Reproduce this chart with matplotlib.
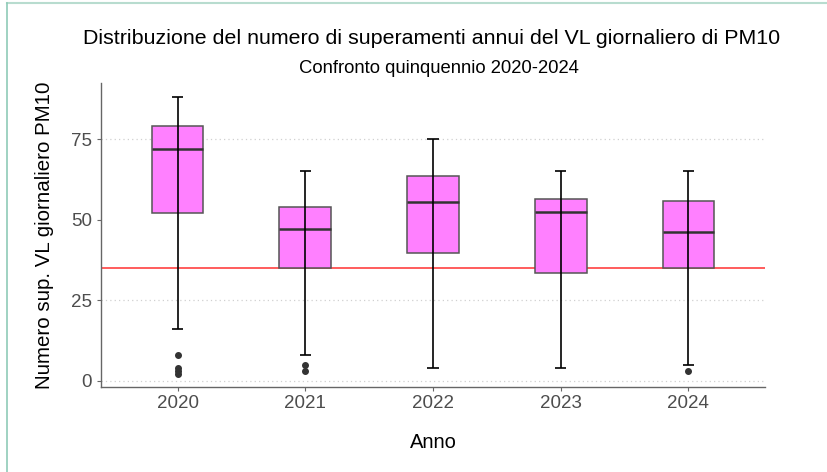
import matplotlib
matplotlib.use("Agg")
import matplotlib.pyplot as plt
from matplotlib.lines import Line2D

plt.rcParams['font.family'] = ['Liberation Sans', 'DejaVu Sans']

# Summary statistics
anni = ['2020', '2021', '2022', '2023', '2024']
whisker_low = [16, 8, 4, 4, 5]
q1 = [52, 35, 39.5, 33.5, 35]
mediana = [72, 47, 55.5, 52.5, 46]
q3 = [79, 54, 63.5, 56.5, 55.8]
whisker_high = [88, 65, 75, 65, 65]
outliers = [[8, 4, 3, 2], [5, 3], [], [], [3]]

valore_limite = 35
y_ticks = [0, 25, 50, 75]
grid_lines = [0, 25, 75]

fig = plt.figure(figsize=(8.27, 4.72), dpi=100)
ax = fig.add_axes([0.1221, 0.180, 0.8029, 0.644])

stats = []
for i, anno in enumerate(anni):
    stats.append(dict(label=anno, med=mediana[i], q1=q1[i], q3=q3[i],
                      whislo=whisker_low[i], whishi=whisker_high[i],
                      fliers=outliers[i]))

positions = range(1, len(anni) + 1)

for y in grid_lines:
    ax.axhline(y, color='#d0d0d0', lw=0.9, ls=(0, (1, 2.5)), zorder=0)

ax.axhline(valore_limite, color='#ff3030', lw=1.1, zorder=1)

ax.bxp(stats, positions=positions, widths=0.405, patch_artist=True,
       showcaps=False, showfliers=True,
       boxprops=dict(facecolor='#ff80ff', edgecolor='#555555', linewidth=1.1),
       medianprops=dict(color='#333333', linewidth=1.8),
       whiskerprops=dict(linewidth=0),
       flierprops=dict(marker='o', markerfacecolor='#333333',
                       markeredgecolor='#333333', markersize=4),
       zorder=2)

# whisker lines drawn over the boxes, with short caps
for i, p in enumerate(positions):
    ax.vlines(p, whisker_low[i], whisker_high[i], color='black', lw=1.2, zorder=4)
    ax.hlines([whisker_low[i], whisker_high[i]], p - 0.045, p + 0.045,
              color='black', lw=1.2, zorder=4)

ax.set_xlim(0.4, 5.6)
ax.set_ylim(-2, 92.4)
ax.set_xticks(list(positions))
ax.set_xticklabels(anni)
ax.set_yticks(y_ticks)

for s in ['top', 'right']:
    ax.spines[s].set_visible(False)
for s in ['left', 'bottom']:
    ax.spines[s].set_color('#666666')
    ax.spines[s].set_linewidth(1.0)

ax.tick_params(axis='both', colors='#666666', labelcolor='#4d4d4d',
               labelsize=13.5, length=3)
ax.tick_params(axis='x', pad=3)

ax.set_xlabel('Anno', fontsize=14.5, color='black', labelpad=15)
ax.set_ylabel('Numero sup. VL giornaliero PM10', fontsize=14.8, color='black',
              labelpad=12)

fig.text(0.522, 0.918, 'Distribuzione del numero di superamenti annui del VL giornaliero di PM10',
         ha='center', va='center', fontsize=15.4)
fig.text(0.531, 0.855, 'Confronto quinquennio 2020-2024',
         ha='center', va='center', fontsize=13.3)

# light frame around the image (top and left edges)
fig.add_artist(Line2D([7 / 827, 1], [1 - 3 / 472, 1 - 3 / 472],
                      transform=fig.transFigure, color='#b8dccf', lw=1.5))
fig.add_artist(Line2D([7 / 827, 7 / 827], [0, 1 - 3 / 472],
                      transform=fig.transFigure, color='#8fcbb8', lw=1.2))

fig.savefig('out.png', dpi=100)
